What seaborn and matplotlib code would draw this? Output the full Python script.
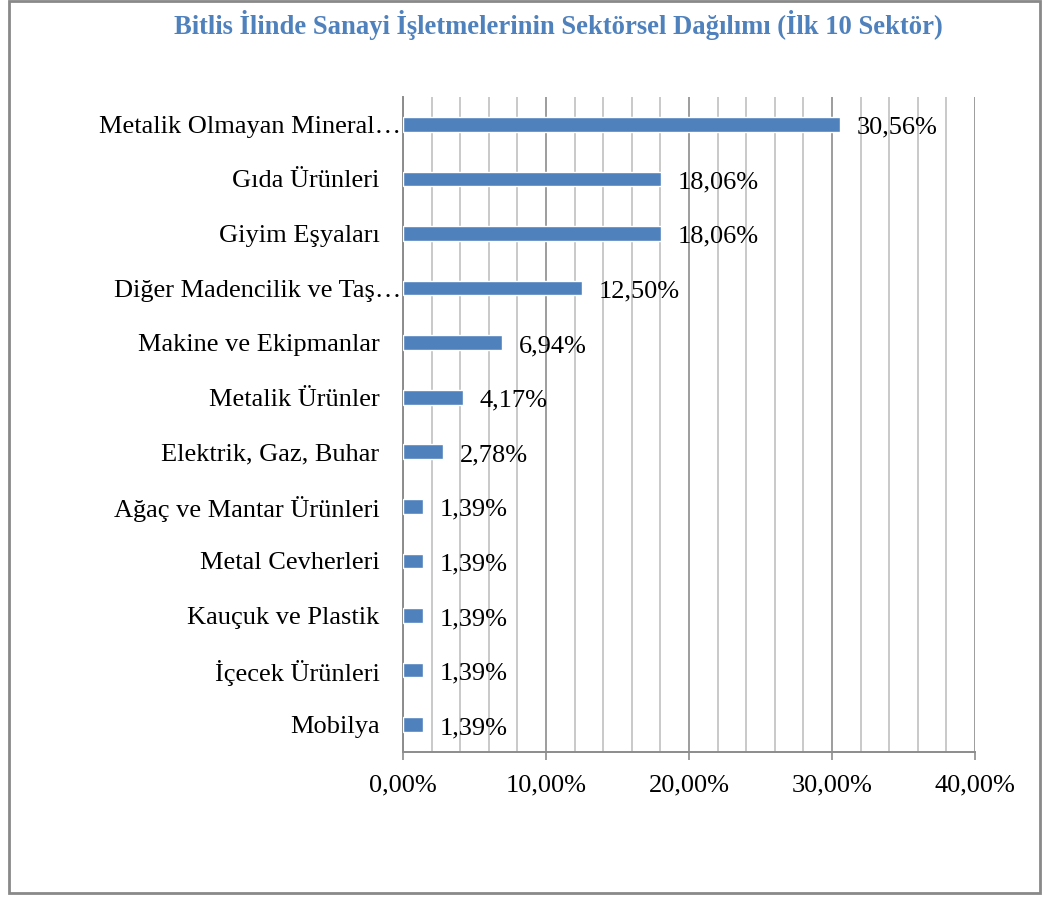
import numpy as np
import matplotlib
matplotlib.use("Agg")
import matplotlib.pyplot as plt
import matplotlib.transforms as mtransforms
from matplotlib.patches import Rectangle
from matplotlib.ticker import MultipleLocator, FuncFormatter
import seaborn as sns

sectors = ["Metalik Olmayan Mineral…", "Gıda Ürünleri", "Giyim Eşyaları",
           "Diğer Madencilik ve Taş…", "Makine ve Ekipmanlar", "Metalik Ürünler",
           "Elektrik, Gaz, Buhar", "Ağaç ve Mantar Ürünleri", "Metal Cevherleri",
           "Kauçuk ve Plastik", "İçecek Ürünleri", "Mobilya"]
shares = [30.56, 18.06, 18.06, 12.50, 6.94, 4.17, 2.78, 1.39, 1.39, 1.39, 1.39, 1.39]
title = "Bitlis İlinde Sanayi İşletmelerinin Sektörsel Dağılımı (İlk 10 Sektör)"

sns.set_style("white")
plt.rcParams['font.family'] = ['Liberation Serif', 'DejaVu Serif']
plt.rcParams['text.color'] = 'black'

bar_color = "#4F81BD"
font_size = 19

fig = plt.figure(figsize=(10.43, 8.97), dpi=100, facecolor='w')
ax = fig.add_axes([403 / 1043, 145 / 897, 572 / 1043, 655 / 897])

sns.barplot(x=shares, y=sectors, color=bar_color, width=0.27, saturation=1, ax=ax, zorder=3)

ax.set_xlim(0, 40)
ax.set_ylim(11.5, -0.5)
ax.xaxis.set_major_locator(MultipleLocator(10))
ax.xaxis.set_minor_locator(MultipleLocator(2))
ax.xaxis.set_major_formatter(FuncFormatter(lambda v, p: f"{v:.2f}".replace('.', ',') + '%'))

ax.grid(axis='x', which='minor', color='#C0C0C0', linewidth=1.2, zorder=0)
ax.grid(axis='x', which='major', color='#8C8C8C', linewidth=1.2, zorder=0)
ax.set_axisbelow(True)

for side in ['top', 'right']:
    ax.spines[side].set_visible(False)
for side in ['left', 'bottom']:
    ax.spines[side].set_color('#8C8C8C')
    ax.spines[side].set_linewidth(1.4)

ax.tick_params(axis='x', which='major', direction='out', length=6, width=1.2,
               color='#8C8C8C', labelsize=font_size, pad=10, bottom=True, labelcolor='black')
ax.tick_params(axis='x', which='minor', length=0)
ax.tick_params(axis='y', length=0, labelsize=font_size, pad=17, labelcolor='black')
ax.set_xlabel('')
ax.set_ylabel('')

# truncated labels sit right against the axis, like Excel does
shift = mtransforms.ScaledTranslation(22 / 100, 0, fig.dpi_scale_trans)
for lab in ax.get_yticklabels():
    if lab.get_text().endswith('…'):
        lab.set_transform(lab.get_transform() + shift)

labels = [f"{v:.2f}".replace('.', ',') + '%' for v in shares]
for p, lab in zip(ax.patches, labels):
    ax.annotate(lab, (p.get_width(), p.get_y() + p.get_height() / 2),
                xytext=(12, -2.5), textcoords='offset points', va='center', ha='left',
                fontsize=font_size, color='black')

fig.text(558 / 1043, 1 - 25 / 897, title, ha='center', va='center', fontsize=19.2,
         fontweight='bold', color=bar_color)

fig.patches.append(Rectangle((9 / 1043, 4 / 897), 1031 / 1043, 892 / 897,
                             transform=fig.transFigure, fill=False,
                             edgecolor='#898989', linewidth=2))

plt.savefig("out.png", dpi=100, facecolor='w')
